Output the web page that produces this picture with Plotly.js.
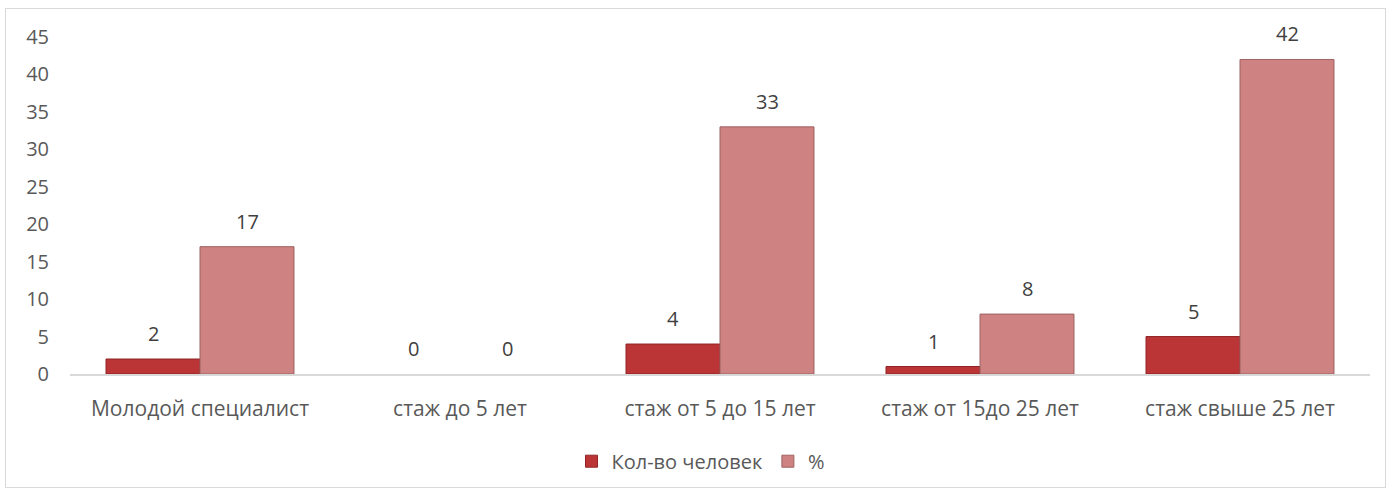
<!DOCTYPE html>
<html>
<head>
<meta charset="utf-8">
<script src="https://cdn.plot.ly/plotly-3.0.1.min.js"></script>
<style>
html,body{margin:0;padding:0;background:#fff;}
#chart{position:absolute;left:5px;top:8px;width:1379px;height:478px;border:1px solid #d9d9d9;}
</style>
</head>
<body>
<div id="chart"></div>
<script>
const categories = ["Молодой специалист", "стаж до 5 лет", "стаж от 5 до 15 лет", "стаж от 15до 25 лет", "стаж свыше 25 лет"];
const seriesNames = ["Кол-во человек", "%"];
const countValues = [2, 0, 4, 1, 5];
const percentValues = [17, 0, 33, 8, 42];
const yTicks = [0, 5, 10, 15, 20, 25, 30, 35, 40, 45];

const FONT = "Open Sans, Liberation Sans, sans-serif";
const textColor = "#595959";
const SIZE = 20;

const traces = [
  {
    type: "bar", name: seriesNames[0], x: categories, y: countValues,
    marker: {color: "#BC3536", line: {color: "#8E2425", width: countValues.map(v => v ? 1 : 0)}},
    hoverinfo: "skip"
  },
  {
    type: "bar", name: seriesNames[1], x: categories, y: percentValues,
    marker: {color: "#CE8282", line: {color: "#9E6262", width: percentValues.map(v => v ? 1 : 0)}},
    hoverinfo: "skip"
  }
];

const annotations = [];
[countValues, percentValues].forEach((vals, si) => {
  vals.forEach((v, i) => {
    annotations.push({
      x: categories[i], y: v, xref: "x", yref: "y",
      text: String(v), showarrow: false,
      xshift: si === 0 ? -47 : 47, yanchor: "bottom", yshift: 10,
      font: {family: FONT, size: SIZE, color: "#404040"}
    });
  });
});

const layout = {
  width: 1379, height: 478,
  margin: {l: 64, r: 15, t: 28, b: 113, autoexpand: false},
  paper_bgcolor: "#fff", plot_bgcolor: "#fff",
  barmode: "group", bargap: 0.277, bargroupgap: 0,
  font: {family: FONT, size: SIZE, color: textColor},
  xaxis: {
    type: "category", showgrid: false, zeroline: false,
    showline: true, linecolor: "#d9d9d9", linewidth: 2,
    ticks: "", ticklabelstandoff: 15,
    tickfont: {family: FONT, size: 21, color: textColor}
  },
  yaxis: {
    range: [0, 45], tickvals: yTicks, ticktext: yTicks.map(String),
    showgrid: false, zeroline: false, showline: false, ticks: "",
    ticklabelstandoff: 20,
    tickfont: {family: FONT, size: SIZE, color: textColor}
  },
  showlegend: true,
  legend: {
    orientation: "h", xref: "paper", x: 0.485, xanchor: "center",
    yref: "container", y: 0.054, yanchor: "middle",
    font: {family: FONT, size: SIZE, color: textColor},
    itemwidth: 30, traceorder: "normal"
  },
  annotations: annotations
};

Plotly.newPlot("chart", traces, layout, {displayModeBar: false, staticPlot: true});
</script>
</body>
</html>
